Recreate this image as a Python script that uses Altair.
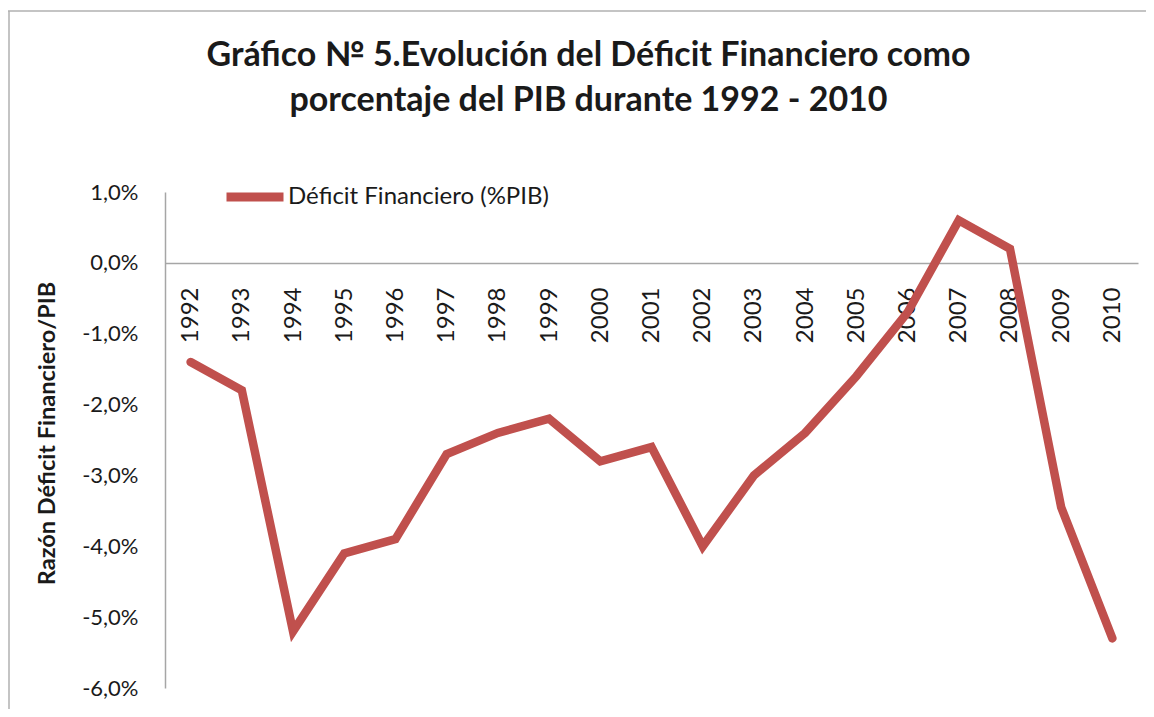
import altair as alt
import pandas as pd

years = [str(y) for y in range(1992, 2011)]
deficit = [-1.4, -1.8, -5.2, -4.1, -3.9, -2.7, -2.4, -2.2, -2.8, -2.6,
           -4.0, -3.0, -2.4, -1.6, -0.7, 0.6, 0.2, -3.45, -5.3]
series_name = "Déficit Financiero (%PIB)"
y_ticks = [1, 0, -1, -2, -3, -4, -5, -6]
title_lines = ["Gráfico № 5.Evolución  del Déficit Financiero como",
               "porcentaje del PIB durante  1992 - 2010"]
y_title = "Razón Déficit Financiero/PIB"

FONT = "Lato"
TXT = "#1a1a1a"
RED = "#C0504D"

df = pd.DataFrame({"year": years, "value": deficit, "serie": [series_name] * len(years)})

line = alt.Chart(df).mark_line(strokeWidth=8.5, strokeCap="round").encode(
    x=alt.X("year:O", sort=years,
            axis=alt.Axis(title=None, labelAngle=270, labelFont=FONT, labelFontSize=24,
                          labelColor=TXT, labelPadding=24, ticks=False, tickSize=0,
                          domainColor="#a6a6a6", domainWidth=1.5, offset=-425,
                          labelOverlap=False)),
    y=alt.Y("value:Q", scale=alt.Scale(domain=[-6, 1], nice=False, zero=False),
            axis=alt.Axis(values=y_ticks,
                          labelExpr="replace(replace(format(datum.value, '.1f'), '.', ','), '\u2212', '-') + '%'",
                          ticks=False, tickSize=0, grid=False, domainColor="#a6a6a6", domainWidth=1.5,
                          labelFont=FONT, labelFontSize=22, labelColor=TXT, labelPadding=27,
                          title=y_title, titleFont=FONT, titleFontSize=23.5, titleFontWeight="bold",
                          titleColor=TXT, titleX=-118, titleY=241, titleAngle=270,
                          titleAlign="center", titleBaseline="middle")),
    color=alt.Color("serie:N", scale=alt.Scale(range=[RED]),
                    legend=alt.Legend(title=None, orient="none", legendX=57, legendY=-28,
                                      symbolType="stroke", symbolSize=3249, symbolStrokeWidth=9,
                                      labelFont=FONT, labelFontSize=24, labelColor=TXT,
                                      labelOffset=0, labelLimit=500, padding=0)),
)

border_df = pd.DataFrame({"k": [0]})
top_border = alt.Chart(border_df).mark_rule(color="#b0b0b0", strokeWidth=1.5).encode(
    x=alt.value(-157), x2=alt.value(1000), y=alt.value(-181))
left_border = alt.Chart(border_df).mark_rule(color="#b0b0b0", strokeWidth=1.5).encode(
    x=alt.value(-156), y=alt.value(-181), y2=alt.value(525))

chart = alt.layer(top_border, left_border, line).properties(
    width=973, height=496,
    background="white",
    autosize=alt.AutoSizeParams(type="none"),
    padding={"left": 157, "top": 184, "right": 8, "bottom": 21},
    title=alt.TitleParams(text=title_lines, font=FONT, fontSize=34, fontWeight="bold",
                          color=TXT, anchor="middle", dx=-63, offset=-108, lineHeight=45),
).configure_view(stroke=None)

chart.save("out.html", embed_options={"renderer": "svg", "actions": False})
